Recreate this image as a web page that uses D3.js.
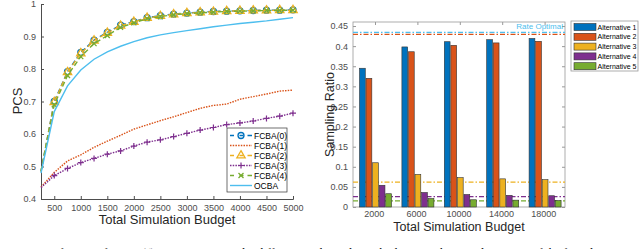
<!DOCTYPE html>
<html>
<head>
<meta charset="utf-8">
<script src="https://cdn.jsdelivr.net/npm/d3@7"></script>
<style>
  body { margin: 0; background: #fff; }
  svg { display: block; font-family: "Liberation Sans", Arial, sans-serif; }
</style>
</head>
<body>
<svg id="chart" width="640" height="249"></svg>
<script>
// ---- left panel data: PCS vs total simulation budget ----
var budgets = [250, 500, 750, 1000, 1250, 1500, 1750, 2000, 2250, 2500, 2750, 3000, 3250, 3500, 3750, 4000, 4250, 4500, 4750, 5000];
var fcba0 = [0.485, 0.700, 0.792, 0.851, 0.889, 0.913, 0.935, 0.946, 0.958, 0.964, 0.969, 0.972, 0.975, 0.977, 0.978, 0.979, 0.980, 0.981, 0.981, 0.982];
var fcba1 = [0.437, 0.482, 0.517, 0.536, 0.559, 0.578, 0.596, 0.615, 0.628, 0.641, 0.653, 0.666, 0.679, 0.688, 0.692, 0.707, 0.715, 0.723, 0.732, 0.735];
var fcba2 = [0.485, 0.698, 0.790, 0.848, 0.887, 0.911, 0.933, 0.945, 0.957, 0.963, 0.968, 0.972, 0.974, 0.976, 0.978, 0.979, 0.980, 0.980, 0.981, 0.981];
var fcba3 = [0.435, 0.472, 0.494, 0.512, 0.525, 0.538, 0.548, 0.563, 0.575, 0.582, 0.592, 0.602, 0.612, 0.620, 0.629, 0.634, 0.640, 0.648, 0.655, 0.664];
var fcba4 = [0.485, 0.690, 0.780, 0.838, 0.878, 0.903, 0.928, 0.942, 0.955, 0.961, 0.967, 0.970, 0.973, 0.975, 0.977, 0.978, 0.979, 0.980, 0.980, 0.981];
var ocba  = [0.480, 0.669, 0.748, 0.797, 0.830, 0.853, 0.870, 0.884, 0.896, 0.905, 0.912, 0.918, 0.924, 0.930, 0.935, 0.940, 0.944, 0.948, 0.953, 0.958];
var leftXTicks = [500, 1000, 1500, 2000, 2500, 3000, 3500, 4000, 4500, 5000];
var leftYTicks = [0.4, 0.5, 0.6, 0.7, 0.8, 0.9, 1];

// ---- right panel data: sampling ratio per alternative ----
var groups = ["2000", "6000", "10000", "14000", "18000"];
var alternatives = ["Alternative 1", "Alternative 2", "Alternative 3", "Alternative 4", "Alternative 5"];
var alt1 = [0.345, 0.398, 0.411, 0.416, 0.419];
var alt2 = [0.320, 0.386, 0.402, 0.408, 0.412];
var alt3 = [0.110, 0.081, 0.073, 0.070, 0.068];
var alt4 = [0.054, 0.036, 0.031, 0.029, 0.028];
var alt5 = [0.033, 0.021, 0.018, 0.017, 0.016];
var rateOptimal = [0.434, 0.429, 0.062, 0.026, 0.015];
var rightYTicks = [0, 0.05, 0.1, 0.15, 0.2, 0.25, 0.3, 0.35, 0.4, 0.45];

var C = {
    blue: "#0072BD", orange: "#D95319", yellow: "#EDB120",
    purple: "#7E2F8E", green: "#77AC30", light: "#4DBEEE",
    axis: "#4d4d4d"
};

var svg = d3.select("#chart");

/* ================= left panel ================= */
var x = d3.scaleLinear().domain([250, 5000]).range([41, 293]);
var y = d3.scaleLinear().domain([0.4, 1]).range([199, 4]);

var left = svg.append("g").attr("class", "left");

var xAxis = d3.axisBottom(x).tickValues(leftXTicks).tickSize(-3).tickPadding(6).tickFormat(d3.format("d"));
var yAxis = d3.axisLeft(y).tickValues(leftYTicks).tickSize(-3).tickPadding(5).tickFormat(function(d){ return d === 1 ? "1" : d3.format(".1f")(d); });

left.append("g").attr("transform", "translate(0,199)").call(xAxis);
left.append("g").attr("transform", "translate(41,0)").call(yAxis);
left.selectAll(".domain, .tick line").attr("stroke", C.axis);
left.selectAll(".tick text").attr("fill", C.axis).style("font-size", "9px");

left.append("text")
    .attr("x", 167).attr("y", 224)
    .attr("text-anchor", "middle")
    .style("font-size", "13px").attr("fill", "#262626")
    .text("Total Simulation Budget");
left.append("text")
    .attr("transform", "translate(22,101) rotate(-90)")
    .attr("text-anchor", "middle")
    .style("font-size", "13px").attr("fill", "#262626")
    .text("PCS");

var series = [
    {name: "FCBA(0)", values: fcba0, color: C.blue,   dash: "5,3",     marker: "circle"},
    {name: "FCBA(1)", values: fcba1, color: C.orange, dash: "1.5,1.2", marker: null},
    {name: "FCBA(2)", values: fcba2, color: C.yellow, dash: "5,3",     marker: "triangle"},
    {name: "FCBA(3)", values: fcba3, color: C.purple, dash: "1.5,1.2", marker: "plus"},
    {name: "FCBA(4)", values: fcba4, color: C.green,  dash: "5,3",     marker: "cross"},
    {name: "OCBA",    values: ocba,  color: C.light,  dash: null,      marker: null}
];

var line = d3.line()
    .x(function(d){ return x(d[0]); })
    .y(function(d){ return y(d[1]); });

function drawMarker(g, type, color, cx, cy){
    if(type === "circle"){
        g.append("circle").attr("cx", cx).attr("cy", cy).attr("r", 3)
            .attr("fill", "none").attr("stroke", color).attr("stroke-width", 1.3);
    }else if(type === "triangle"){
        g.append("path").attr("d", d3.symbol().type(d3.symbolTriangle).size(30)())
            .attr("transform", "translate(" + cx + "," + cy + ")")
            .attr("fill", "none").attr("stroke", color).attr("stroke-width", 1.3);
    }else if(type === "plus"){
        g.append("path").attr("d", "M" + (cx - 3) + "," + cy + "H" + (cx + 3) + "M" + cx + "," + (cy - 3) + "V" + (cy + 3))
            .attr("stroke", color).attr("stroke-width", 1.2);
    }else if(type === "cross"){
        g.append("path").attr("d", "M" + (cx - 2.5) + "," + (cy - 2.5) + "L" + (cx + 2.5) + "," + (cy + 2.5) + "M" + (cx - 2.5) + "," + (cy + 2.5) + "L" + (cx + 2.5) + "," + (cy - 2.5))
            .attr("stroke", color).attr("stroke-width", 1.3);
    }
}

series.forEach(function(s){
    var pts = budgets.map(function(b, i){ return [b, s.values[i]]; });
    var g = left.append("g");
    g.append("path")
        .attr("d", line(pts))
        .attr("fill", "none")
        .attr("stroke", s.color)
        .attr("stroke-width", 1.4)
        .attr("stroke-dasharray", s.dash);
    if(s.marker){
        pts.slice(1).forEach(function(p){
            drawMarker(g, s.marker, s.color, x(p[0]), y(p[1]));
        });
    }
});

// legend
var lg = left.append("g").attr("transform", "translate(227,128)");
lg.append("rect").attr("width", 60).attr("height", 64)
    .attr("fill", "#fff").attr("stroke", "#333").attr("stroke-width", 0.7);
series.forEach(function(s, i){
    var yy = 7.5 + i * 10;
    lg.append("line").attr("x1", 3).attr("x2", 25).attr("y1", yy).attr("y2", yy)
        .attr("stroke", s.color).attr("stroke-width", 1.4)
        .attr("stroke-dasharray", s.dash ? (s.dash === "5,3" ? "4,5.5,4" : s.dash) : null);
    if(s.marker) drawMarker(lg, s.marker, s.color, 14, yy);
    lg.append("text").attr("x", 27).attr("y", yy + 3)
        .style("font-size", "8.5px").attr("fill", "#000")
        .text(s.name);
});

/* ================= right panel ================= */
var px0 = 353, px1 = 565, py0 = 22, py1 = 207;
var xg = d3.scaleBand().domain(groups).range([px0, px1]);
var xb = d3.scaleBand().domain(alternatives).range([6.5, 38.5]).paddingInner(0.12);
var yr = d3.scaleLinear().domain([0, 0.46]).range([py1, py0]);
var altColors = [C.blue, C.orange, C.yellow, C.purple, C.green];
var altValues = [alt1, alt2, alt3, alt4, alt5];

var right = svg.append("g").attr("class", "right");

// box with ticks on all sides
right.append("rect").attr("x", px0).attr("y", py0).attr("width", px1 - px0).attr("height", py1 - py0)
    .attr("fill", "#fff").attr("stroke", "#999").attr("stroke-width", 0.8);

var rxAxis = d3.axisBottom(xg).tickSize(0).tickPadding(4);
var ryAxis = d3.axisLeft(yr).tickValues(rightYTicks).tickSize(-3).tickPadding(5)
    .tickFormat(function(d){ return d === 0 ? "0" : String(+d.toFixed(2)); });
var ryAxisR = d3.axisRight(yr).tickValues(rightYTicks).tickSize(-3).tickFormat("");

right.append("g").attr("transform", "translate(0," + py1 + ")").call(rxAxis);
right.append("g").attr("transform", "translate(" + px0 + ",0)").call(ryAxis);
right.append("g").attr("transform", "translate(" + px1 + ",0)").call(ryAxisR);
right.selectAll(".domain").remove();
right.selectAll(".tick line").attr("stroke", "#999");
right.selectAll(".tick text").attr("fill", C.axis).style("font-size", "9px");

// top/bottom tick marks at group centers
groups.forEach(function(gname){
    var cx = xg(gname) + (xb.range()[0] + xb.range()[1]) / 2;
    right.append("line").attr("x1", cx).attr("x2", cx).attr("y1", py0).attr("y2", py0 + 3).attr("stroke", "#999");
    right.append("line").attr("x1", cx).attr("x2", cx).attr("y1", py1).attr("y2", py1 - 3).attr("stroke", "#999");
});

// rate optimal reference lines
rateOptimal.forEach(function(v, i){
    right.append("line")
        .attr("x1", px0).attr("x2", px1)
        .attr("y1", yr(v)).attr("y2", yr(v))
        .attr("stroke", i === 0 ? C.light : altColors[i])
        .attr("stroke-width", 1.2)
        .attr("stroke-dasharray", "5,2,1.5,2");
});
right.append("text")
    .attr("x", px1 - 2).attr("y", yr(0.434) - 3)
    .attr("text-anchor", "end")
    .style("font-size", "8px").attr("fill", C.light)
    .text("Rate Optimal");

// bars
groups.forEach(function(gname, gi){
    alternatives.forEach(function(a, ai){
        var v = altValues[ai][gi];
        right.append("rect")
            .attr("x", xg(gname) + xb(a))
            .attr("y", yr(v))
            .attr("width", xb.bandwidth())
            .attr("height", yr(0) - yr(v))
            .attr("fill", altColors[ai])
            .attr("stroke", "#333")
            .attr("stroke-width", 0.6);
    });
});

right.append("text")
    .attr("x", (px0 + px1) / 2).attr("y", 231)
    .attr("text-anchor", "middle")
    .style("font-size", "12.5px").attr("fill", "#262626")
    .text("Total Simulation Budget");
right.append("text")
    .attr("transform", "translate(334," + ((py0 + py1) / 2) + ") rotate(-90)")
    .attr("text-anchor", "middle")
    .style("font-size", "12.5px").attr("fill", "#262626")
    .text("Sampling Ratio");

// legend
var rl = right.append("g").attr("transform", "translate(571,21)");
rl.append("rect").attr("width", 67).attr("height", 50)
    .attr("fill", "#fff").attr("stroke", "#999").attr("stroke-width", 0.8);
alternatives.forEach(function(a, i){
    var yy = 6 + i * 9.8;
    rl.append("rect").attr("x", 3).attr("y", yy - 3.5).attr("width", 22).attr("height", 7)
        .attr("fill", altColors[i]).attr("stroke", "#333").attr("stroke-width", 0.6);
    rl.append("text").attr("x", 26.5).attr("y", yy + 2.6)
        .style("font-size", "7px").attr("fill", "#000")
        .text(a);
});

// caption, cut off by the bottom edge of the picture
svg.append("text")
    .attr("x", 0).attr("y", 257)
    .style("font-family", "'Liberation Serif', 'Times New Roman', serif")
    .style("font-size", "12px").attr("fill", "#000")
    .text("Figure 1: Left: PCS of FCBA(ζ) versus OCBA under different total simulation budgets. Right: sampling ratios of the five alternatives (1,000 replications).");
</script>
</body>
</html>
